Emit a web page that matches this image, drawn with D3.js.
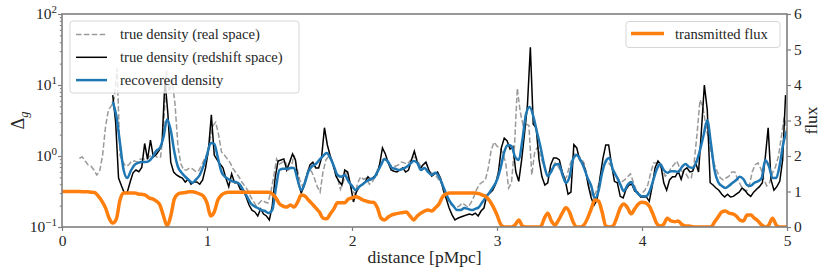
<!DOCTYPE html>
<html>
<head>
<meta charset="utf-8">
<script src="https://cdn.jsdelivr.net/npm/d3@7"></script>
<style>
body { margin: 0; background: #fff; }
text { font-family: "Liberation Serif", "DejaVu Serif", serif; fill: #262626; }
</style>
</head>
<body>
<svg id="chart" width="830" height="277"></svg>
<script>
// series: start distance, sampling step, values
var realStart = 0.12, realStep = 0.02;
var realSpace = [
  0.93,0.97,0.85,0.75,0.72,0.635,0.54,0.61,1.03,2.56,
  4.45,5.06,6.5,17,1.03,0.82,0.72,0.75,0.85,0.85,
  0.82,0.91,0.91,0.88,0.97,1.03,1.03,0.94,0.97,2.3,
  16,8,11.8,5.2,1.34,0.77,0.635,0.635,0.68,0.66,
  0.61,0.61,0.72,0.88,1.07,1.68,2.65,3.0,1.98,1.14,
  1.03,0.91,0.8,0.66,0.58,0.51,0.43,0.38,0.33,0.27,
  0.23,0.197,0.218,0.24,0.225,0.218,0.31,0.51,0.91,0.77,
  0.82,0.85,0.635,0.68,1.03,0.68,0.46,0.37,0.49,0.66,
  0.61,0.49,0.37,0.31,0.595,0.88,1.0,0.85,0.61,0.49,
  0.34,0.43,0.58,0.44,0.33,0.29,0.42,0.51,0.47,0.49,
  0.4,0.43,0.52,0.68,0.85,0.91,0.85,0.75,0.72,0.72,
  0.75,0.82,0.8,0.77,0.85,0.94,0.97,0.8,0.68,0.68,
  0.635,0.595,0.56,0.52,0.46,0.4,0.33,0.25,0.21,0.197,
  0.19,0.197,0.218,0.204,0.19,0.218,0.265,0.34,0.4,0.43,
  0.46,0.68,1.21,1.57,1.38,1.3,1.1,0.8,0.354,0.42,
  1.3,9,4.2,2.7,2.8,2.7,0.54,1.14,1.34,1.0,
  0.75,0.595,0.595,0.68,0.8,0.72,0.61,0.46,0.51,0.72,
  0.94,1.1,1.03,0.91,0.8,0.51,0.33,0.27,0.30,0.39,
  0.595,0.75,0.85,0.75,0.66,0.56,0.46,0.43,0.46,0.51,
  0.56,0.43,0.33,0.28,0.30,0.33,0.39,0.58,0.8,0.8,
  0.72,0.66,0.52,0.56,0.68,0.75,0.85,0.68,0.595,0.58,
  0.49,0.49,0.82,2.1,6.15,4.9,2.7,1.68,1.03,0.75,
  0.595,0.49,0.46,0.49,0.52,0.595,0.595,0.47,0.39,0.33,
  0.32,0.38,0.595,0.75,0.8,0.66,0.47,0.38,0.42,0.58,
  0.7,0.97,1.79,3.5,2.3
];

var redStart = 0.35, redStep = 0.02;
var redshiftSpace = [
  7.2,3.0,0.49,0.38,0.30,0.31,0.43,0.58,0.635,0.6,
  0.69,1.5,0.9,1.68,0.97,1.05,1.2,1.5,11.8,4.0,
  0.82,0.595,0.54,0.51,0.49,0.43,0.47,0.4,0.43,0.43,
  0.4,0.46,0.68,1.2,3.8,1.03,0.88,0.77,0.68,0.49,
  0.37,0.56,0.42,0.42,0.34,0.33,0.265,0.204,0.173,0.163,
  0.143,0.18,0.152,0.143,0.126,0.197,0.49,0.85,0.88,0.91,
  0.635,0.82,1.07,0.88,0.42,0.30,0.38,0.54,0.75,0.82,
  0.68,0.68,0.94,2.5,1.43,1.0,0.77,0.52,0.44,0.39,
  0.635,0.595,0.39,0.225,0.31,0.37,0.4,0.43,0.51,0.46,
  0.51,0.54,0.75,1.3,1.07,0.8,0.635,0.61,0.595,0.635,
  0.68,0.595,0.635,0.88,1.17,0.82,0.66,0.75,0.82,0.635,
  0.52,0.56,0.595,0.49,0.33,0.25,0.185,0.148,0.126,0.133,
  0.138,0.143,0.148,0.152,0.148,0.157,0.143,0.168,0.185,0.28,
  0.30,0.33,0.4,0.595,1.3,1.79,1.63,1.25,1.34,0.595,
  0.44,0.88,2.1,5.2,34,2.8,2.5,0.88,0.51,0.39,
  0.42,0.75,0.94,0.94,0.88,0.595,0.46,0.29,0.31,1.45,
  1.3,0.88,0.8,0.635,0.38,0.256,0.204,0.24,0.49,0.91,
  1.43,1.43,0.75,0.44,0.42,0.27,0.256,0.34,0.39,0.4,
  0.32,0.31,0.265,0.265,0.265,0.23,0.37,0.68,0.85,0.75,
  0.42,0.33,0.46,0.51,0.51,0.61,0.47,0.635,0.68,0.595,
  0.61,0.8,0.595,2.3,10,4.5,0.42,0.39,0.354,0.33,
  0.29,0.265,0.29,0.265,0.27,0.29,0.31,0.354,0.33,0.29,
  0.27,0.31,0.34,0.37,0.42,0.94,2.5,0.46,0.33,0.37,
  0.44,0.88,7.2
];

var recStart = 0.35, recStep = 0.025;
var recovered = [
  5.8,3.65,1.52,0.635,0.49,0.62,0.75,0.8,0.82,0.82,
  0.85,0.97,1.18,1.3,1.85,3.3,2.3,1.14,0.70,0.58,
  0.51,0.46,0.42,0.47,0.54,0.72,1.03,1.52,1.48,0.94,
  0.595,0.51,0.47,0.44,0.43,0.4,0.33,0.27,0.218,0.197,
  0.185,0.173,0.168,0.157,0.173,0.354,0.635,0.66,0.66,0.68,
  0.68,0.46,0.33,0.42,0.61,0.72,0.77,0.88,1.0,1.1,
  0.94,0.72,0.54,0.51,0.54,0.44,0.38,0.33,0.37,0.4,
  0.44,0.47,0.49,0.595,0.75,0.91,0.82,0.68,0.66,0.635,
  0.66,0.70,0.77,0.85,0.8,0.635,0.68,0.595,0.54,0.58,
  0.51,0.39,0.29,0.23,0.197,0.173,0.173,0.185,0.18,0.173,
  0.18,0.19,0.225,0.265,0.31,0.37,0.46,0.68,1.14,1.43,
  1.38,0.97,0.88,1.68,3.9,4.9,3.65,2.2,1.34,0.75,
  0.52,0.61,0.75,0.77,0.56,0.42,0.51,0.91,1.03,0.88,
  0.68,0.49,0.38,0.25,0.32,0.58,0.85,0.94,0.635,0.51,
  0.4,0.32,0.39,0.43,0.34,0.29,0.27,0.27,0.31,0.44,
  0.635,0.77,0.635,0.58,0.61,0.61,0.595,0.70,0.77,0.70,
  0.68,0.82,1.21,1.98,3.2,1.52,0.635,0.43,0.38,0.354,
  0.38,0.42,0.46,0.51,0.47,0.39,0.38,0.42,0.44,0.49,
  0.88,0.72,0.49,0.49,0.75,1.52,2.3
];

var fluxStart = 0, fluxStep = 0.025;
var flux = [
  1.0,1.0,1.0,1.0,1.0,1.0,0.99,0.99,0.98,0.97,
  0.87,0.73,0.54,0.25,0.11,0.23,0.76,0.96,0.96,0.96,
  0.96,0.93,0.92,0.9,0.82,0.79,0.73,0.62,0.31,0.03,
  0.31,0.79,0.93,0.96,0.97,0.99,0.99,0.97,0.93,0.87,
  0.68,0.31,0.42,0.76,0.9,0.96,0.98,0.98,0.98,0.98,
  0.98,0.98,0.98,0.98,0.98,0.98,0.98,0.98,0.93,0.82,
  0.65,0.59,0.56,0.62,0.56,0.7,0.9,0.87,0.76,0.65,
  0.54,0.42,0.25,0.23,0.37,0.51,0.68,0.68,0.68,0.79,
  0.82,0.85,0.82,0.76,0.73,0.7,0.69,0.54,0.25,0.2,
  0.28,0.34,0.37,0.39,0.41,0.42,0.31,0.2,0.31,0.39,
  0.45,0.48,0.45,0.54,0.65,0.85,0.93,0.96,0.96,0.96,
  0.96,0.96,0.96,0.96,0.96,0.94,0.9,0.85,0.73,0.56,
  0.34,0.08,0,0,0,0.06,0.2,0.03,0,0,
  0,0,0,0.23,0.39,0.17,0.06,0.2,0.39,0.54,
  0.42,0.14,0,0,0.06,0.25,0.51,0.76,0.73,0.42,
  0.03,0,0.03,0.25,0.54,0.65,0.54,0.37,0.51,0.65,
  0.7,0.68,0.59,0.37,0.11,0.03,0.08,0.25,0.17,0.15,
  0.17,0.07,0.03,0.03,0.01,0,0,0,0,0,
  0.14,0.28,0.42,0.45,0.39,0.37,0.31,0.2,0.17,0.34,
  0.34,0.25,0.17,0.06,0,0.06,0.25,0.06,0,0,
  0
];

var xTicks = [0, 1, 2, 3, 4, 5];
var leftExponents = [-1, 0, 1, 2];
var rightTicks = [0, 1, 2, 3, 4, 5, 6];
var leftLegend = ["true density (real space)", "true density (redshift space)", "recovered density"];
var rightLegend = ["transmitted flux"];

var svg = d3.select("#chart");
var pLeft = 62, pRight = 787, pTop = 14, pBottom = 227;
var spineColor = "#7f7f7f";

var x = d3.scaleLinear().domain([0, 5]).range([pLeft, pRight]);
var yL = d3.scaleLog().domain([0.1, 100]).range([pBottom, pTop]);
var yR = d3.scaleLinear().domain([0, 6]).range([pBottom, pTop]);

svg.append("defs").append("clipPath").attr("id", "plotclip")
  .append("rect").attr("x", pLeft).attr("y", pTop)
  .attr("width", pRight - pLeft).attr("height", pBottom - pTop);

var plot = svg.append("g").attr("clip-path", "url(#plotclip)");

function seriesLine(start, step, yscale, curve) {
  return d3.line()
    .x(function (d, i) { return x(start + i * step); })
    .y(function (d) { return yscale(d); })
    .curve(curve);
}

plot.append("path").datum(realSpace)
  .attr("d", seriesLine(realStart, realStep, yL, d3.curveLinear))
  .attr("fill", "none").attr("stroke", "#9a9a9a").attr("stroke-width", 1.5)
  .attr("stroke-dasharray", "5.5,2.4");

plot.append("path").datum(redshiftSpace)
  .attr("d", seriesLine(redStart, redStep, yL, d3.curveLinear))
  .attr("fill", "none").attr("stroke", "#000").attr("stroke-width", 1.5);

plot.append("path").datum(recovered)
  .attr("d", seriesLine(recStart, recStep, yL, d3.curveMonotoneX))
  .attr("fill", "none").attr("stroke", "#1f77b4").attr("stroke-width", 2.5);

plot.append("path").datum(flux)
  .attr("d", seriesLine(fluxStart, fluxStep, yR, d3.curveMonotoneX))
  .attr("fill", "none").attr("stroke", "#ff7f0e").attr("stroke-width", 3.5)
  .attr("stroke-linejoin", "round");

// bottom axis
var xAxis = svg.append("g").attr("transform", "translate(0," + pBottom + ")")
  .call(d3.axisBottom(x).tickValues(xTicks).tickSize(4).tickSizeOuter(0).tickPadding(4).tickFormat(d3.format("d")));
xAxis.select(".domain").remove();
xAxis.selectAll("line").attr("stroke", spineColor).attr("stroke-width", 1.2);
xAxis.selectAll("text").attr("font-size", 15.5).attr("fill", "#262626")
  .attr("font-family", "Liberation Serif, serif");

// left log axis, minor ticks
var minor = [];
leftExponents.slice(0, -1).forEach(function (e) {
  for (var m = 2; m <= 9; m++) minor.push(m * Math.pow(10, e));
});
var yAxisMinor = svg.append("g").attr("transform", "translate(" + pLeft + ",0)")
  .call(d3.axisLeft(yL).tickValues(minor).tickSize(2.2).tickSizeOuter(0).tickFormat(""));
yAxisMinor.select(".domain").remove();
yAxisMinor.selectAll("line").attr("stroke", spineColor).attr("stroke-width", 1);

var majors = leftExponents.map(function (e) { return Math.pow(10, e); });
var yAxisMajor = svg.append("g").attr("transform", "translate(" + pLeft + ",0)")
  .call(d3.axisLeft(yL).tickValues(majors).tickSize(4).tickSizeOuter(0).tickFormat(""));
yAxisMajor.select(".domain").remove();
yAxisMajor.selectAll("line").attr("stroke", spineColor).attr("stroke-width", 1.2);

leftExponents.forEach(function (e) {
  var t = svg.append("text")
    .attr("x", pLeft - 5).attr("y", yL(Math.pow(10, e)) + 5)
    .attr("text-anchor", "end").attr("font-size", 15.5);
  t.append("tspan").text("10");
  t.append("tspan").attr("dy", -6).attr("font-size", 11)
    .text(e < 0 ? "\u2212" + Math.abs(e) : String(e));
});

// right axis
var yAxisR = svg.append("g").attr("transform", "translate(" + pRight + ",0)")
  .call(d3.axisRight(yR).tickValues(rightTicks).tickSize(4).tickSizeOuter(0).tickPadding(3).tickFormat(d3.format("d")));
yAxisR.select(".domain").remove();
yAxisR.selectAll("line").attr("stroke", spineColor).attr("stroke-width", 1.2);
yAxisR.selectAll("text").attr("font-size", 15.5).attr("fill", "#262626")
  .attr("font-family", "Liberation Serif, serif");

// spines
svg.append("rect").attr("x", pLeft).attr("y", pTop)
  .attr("width", pRight - pLeft).attr("height", pBottom - pTop)
  .attr("fill", "none").attr("stroke", spineColor).attr("stroke-width", 1.6);

// axis labels
svg.append("text").attr("x", (pLeft + pRight) / 2).attr("y", 263)
  .attr("text-anchor", "middle").attr("font-size", 17.5).text("distance [pMpc]");

var dl = svg.append("text").attr("transform", "translate(24," + ((pTop + pBottom) / 2) + ") rotate(-90)")
  .attr("text-anchor", "middle").attr("font-size", 18);
dl.append("tspan").text("\u0394");
dl.append("tspan").attr("dy", 4).attr("font-size", 12.5).attr("font-style", "italic").text("g");

svg.append("text").attr("transform", "translate(817," + ((pTop + pBottom) / 2) + ") rotate(-90)")
  .attr("text-anchor", "middle").attr("font-size", 17.5).text("flux");

// legends
var legL = svg.append("g");
legL.append("rect").attr("x", 70).attr("y", 21).attr("width", 229).attr("height", 72)
  .attr("rx", 3).attr("fill", "#fff").attr("fill-opacity", 0.8)
  .attr("stroke", "#d6d6d6").attr("stroke-width", 1);
var legStyles = [
  { color: "#9a9a9a", width: 1.5, dash: "5.5,2.4" },
  { color: "#000", width: 1.5, dash: null },
  { color: "#1f77b4", width: 2.5, dash: null }
];
leftLegend.forEach(function (label, i) {
  var yy = 34.5 + i * 22.8;
  legL.append("line").attr("x1", 76).attr("x2", 107).attr("y1", yy).attr("y2", yy)
    .attr("stroke", legStyles[i].color).attr("stroke-width", legStyles[i].width)
    .attr("stroke-dasharray", legStyles[i].dash);
  legL.append("text").attr("x", 120).attr("y", yy + 4.8).attr("font-size", 14.6).text(label);
});

var legR = svg.append("g");
legR.append("rect").attr("x", 626).attr("y", 21.5).attr("width", 154).attr("height", 26)
  .attr("rx", 3).attr("fill", "#fff").attr("fill-opacity", 0.8)
  .attr("stroke", "#d6d6d6").attr("stroke-width", 1);
legR.append("line").attr("x1", 631).attr("x2", 664).attr("y1", 33.5).attr("y2", 33.5)
  .attr("stroke", "#ff7f0e").attr("stroke-width", 3.5);
legR.append("text").attr("x", 675).attr("y", 38.5).attr("font-size", 14.6).text(rightLegend[0]);
</script>
</body>
</html>
